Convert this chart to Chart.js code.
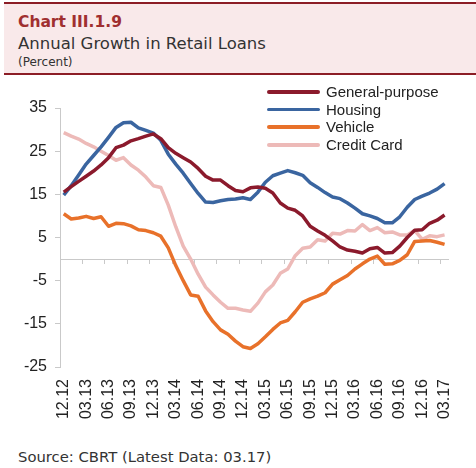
<!DOCTYPE html>
<html>
<head>
<meta charset="utf-8">
<script src="https://cdn.jsdelivr.net/npm/chart.js@4/dist/chart.umd.min.js"></script>
<style>
  html, body { margin: 0; padding: 0; background: #fff; }
  #page { position: relative; width: 476px; height: 468px; overflow: hidden; }
  #header {
    position: absolute; left: 4px; top: 2px; width: 472px; height: 69px;
    background: #F9E9EA; border-top: 2px solid #8C1D26; border-bottom: 2px solid #8C1D26;
  }
  #header div { position: absolute; left: 14px; white-space: nowrap; line-height: 1; font-family: "DejaVu Sans", sans-serif; }
  #t1 { top: 10.6px; font-size: 15.5px; font-weight: bold; color: #A02F30; }
  #t2 { top: 32px; font-size: 16.5px; color: #333; }
  #t3 { top: 52px; font-size: 12px; color: #333; }
  #chartBox { position: absolute; left: 0; top: 75px; width: 476px; height: 352px; }
  #legend { position: absolute; left: 267px; top: 83px; font-family: "Liberation Sans", Arial, sans-serif; font-size: 15px; color: #222; }
  .row { position: relative; height: 17.7px; line-height: 17.7px; white-space: nowrap; }
  .sw { position: absolute; left: 0; top: 7px; width: 53px; height: 3.5px; border-radius: 2px; }
  .lbl { position: absolute; left: 59px; top: 0; }
  #source { position: absolute; left: 18px; top: 450px; line-height: 1; font-family: "DejaVu Sans", sans-serif; font-size: 14.8px; color: #333; white-space: nowrap; }
</style>
</head>
<body>
<div id="page">
  <div id="header">
    <div id="t1">Chart III.1.9</div>
    <div id="t2">Annual Growth in Retail Loans</div>
    <div id="t3">(Percent)</div>
  </div>
  <div id="chartBox"><canvas id="c" width="476" height="352"></canvas></div>
  <div id="legend"></div>
  <div id="source">Source: CBRT (Latest Data: 03.17)</div>
</div>
<script>
// Monthly observations, 12.12 through 03.17
const months = [
  "12.12","01.13","02.13","03.13","04.13","05.13","06.13","07.13","08.13","09.13","10.13","11.13",
  "12.13","01.14","02.14","03.14","04.14","05.14","06.14","07.14","08.14","09.14","10.14","11.14",
  "12.14","01.15","02.15","03.15","04.15","05.15","06.15","07.15","08.15","09.15","10.15","11.15",
  "12.15","01.16","02.16","03.16","04.16","05.16","06.16","07.16","08.16","09.16","10.16","11.16",
  "12.16","01.17","02.17","03.17"
];

const seriesNames = ["General-purpose", "Housing", "Vehicle", "Credit Card"];
const seriesColors = ["#8B1A2C", "#3A65A0", "#E8712A", "#EDBAB8"];

const generalPurpose = [
  15.5, 16.8, 18.0, 19.2, 20.4, 21.8, 23.5, 25.8, 26.4, 27.4, 27.9, 28.5,
  29.0, 27.9, 25.8, 24.5, 23.5, 22.5, 21.0, 19.2, 18.3, 18.3, 17.0, 15.9,
  15.6, 16.5, 16.7, 16.4, 15.3, 13.0, 11.8, 11.3, 10.0, 7.6, 6.5, 5.5,
  4.2, 2.8, 2.1, 1.8, 1.4, 2.4, 2.7, 1.4, 1.5, 3.0, 5.0, 6.7,
  6.8, 8.3, 9.0, 10.2
];

const housing = [
  14.8, 17.0, 19.5, 22.0, 24.0, 26.0, 28.2, 30.5, 31.6, 31.7, 30.4, 29.8,
  29.2, 27.5, 24.3, 22.0, 19.9, 17.5, 15.2, 13.2, 13.1, 13.5, 13.8, 13.9,
  14.2, 13.8, 15.5, 17.8, 19.3, 19.9, 20.5, 20.0, 19.4, 17.7, 16.6, 15.4,
  14.4, 14.0, 13.0, 11.8, 10.5, 10.0, 9.4, 8.4, 8.4, 9.8, 12.0, 13.8,
  14.6, 15.3, 16.2, 17.5
];

const vehicle = [
  10.5, 9.3, 9.5, 9.9, 9.4, 9.8, 7.6, 8.3, 8.2, 7.7, 6.8, 6.6,
  6.1, 5.3, 2.6, -1.5, -5.0, -8.3, -8.6, -12.0, -14.5, -16.4, -17.4, -19.0,
  -20.3, -20.7, -19.6, -18.0, -16.3, -14.8, -14.2, -12.2, -10.0, -9.2, -8.6, -7.8,
  -5.8, -4.8, -3.8, -2.3, -1.1, 0.0, 0.7, -1.2, -1.1, -0.3, 1.0, 4.1,
  4.2, 4.3, 3.9, 3.4
];

const creditCard = [
  29.3, 28.5, 27.8, 26.8, 26.0, 25.0, 24.0, 22.9, 23.5, 21.8, 20.6, 19.0,
  17.0, 16.6, 12.5, 7.5, 3.0, 0.0, -3.5, -6.5, -8.3, -10.0, -11.4, -11.4,
  -11.8, -12.1, -10.2, -7.6, -6.0, -3.3, -2.3, 0.8, 2.5, 2.8, 4.5, 4.2,
  6.0, 5.8, 6.6, 6.5, 8.0, 6.6, 7.3, 6.1, 6.3, 5.6, 5.6, 6.6,
  4.6, 5.4, 5.2, 5.6
];

const yMin = -25, yMax = 35, yStep = 10;
const labelEvery = 3;

const seriesValues = [generalPurpose, housing, vehicle, creditCard];

// legend rows
const legend = document.getElementById('legend');
seriesNames.forEach((name, k) => {
  const row = document.createElement('div');
  row.className = 'row';
  row.innerHTML = '<span class="sw" style="background:' + seriesColors[k] + '"></span><span class="lbl"></span>';
  row.querySelector('.lbl').textContent = name;
  legend.appendChild(row);
});

const axisGray = '#C9C9C9';
const tickFont = { family: '"Liberation Sans", Arial, sans-serif', size: 16 };

new Chart(document.getElementById('c'), {
  type: 'line',
  data: {
    labels: months,
    datasets: seriesNames.map((name, k) => ({
      label: name,
      data: seriesValues[k],
      borderColor: seriesColors[k],
      backgroundColor: seriesColors[k],
      borderWidth: 3.5,
      pointRadius: 0,
      tension: 0,
      borderJoinStyle: 'round',
      borderCapStyle: 'butt',
      fill: false,
      xAxisID: 'x',
      yAxisID: 'y'
    }))
  },
  options: {
    responsive: false,
    animation: false,
    layout: { padding: { top: 33, right: 24, left: 0, bottom: 0 } },
    plugins: { legend: { display: false }, tooltip: { enabled: false } },
    scales: {
      x: {
        type: 'category',
        position: 'bottom',
        offset: true,
        grid: { display: false, drawTicks: false },
        border: { display: false },
        ticks: {
          autoSkip: false,
          minRotation: 90,
          maxRotation: 90,
          padding: 12,
          color: '#222',
          font: tickFont,
          callback: (v, i) => (i % labelEvery === 0 ? months[i] : '')
        },
        afterFit: s => { s.height = 60; }
      },
      xZero: {
        type: 'category',
        position: { y: 0 },
        offset: true,
        grid: {
          offset: true,
          drawOnChartArea: false,
          drawTicks: true,
          tickLength: 4,
          lineWidth: 1,
          color: ctx => (ctx.index % labelEvery === 0 ? axisGray : 'rgba(0,0,0,0)')
        },
        border: { display: true, color: axisGray, width: 1 },
        ticks: { display: false, autoSkip: false }
      },
      y: {
        min: yMin,
        max: yMax,
        grid: { drawOnChartArea: false, drawTicks: true, tickLength: 5, color: axisGray },
        border: { display: true, color: axisGray, width: 1 },
        ticks: { stepSize: yStep, padding: 8, color: '#222', font: tickFont },
        afterFit: s => { s.width = 60; }
      }
    }
  }
});
</script>
</body>
</html>
